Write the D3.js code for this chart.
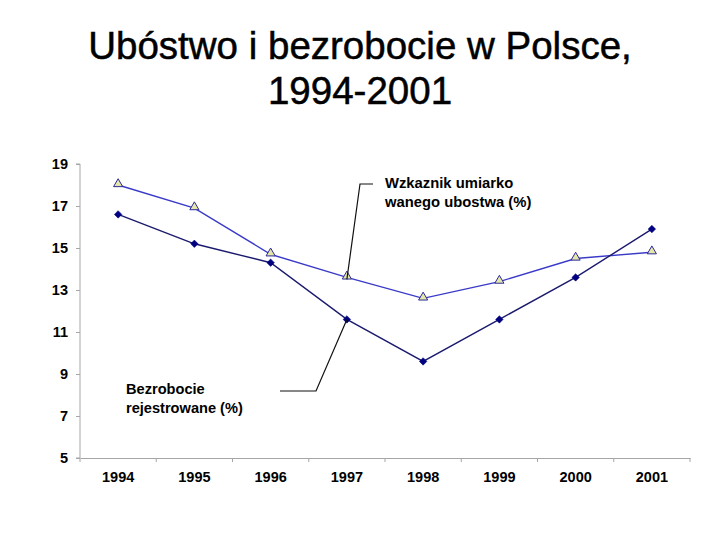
<!DOCTYPE html>
<html><head><meta charset="utf-8">
<script src="https://cdn.jsdelivr.net/npm/d3@7"></script>
<style>body{margin:0;background:#fff}svg{display:block}</style>
</head><body>
<svg id="c" width="720" height="540"></svg>
<script>
const years = ["1994","1995","1996","1997","1998","1999","2000","2001"];
const poverty = [18.0, 16.9, 14.7, 13.6, 12.6, 13.4, 14.5, 14.8];
const unemployment = [16.6, 15.2, 14.3, 11.6, 9.6, 11.6, 13.6, 15.9];
const yTicks = [5, 7, 9, 11, 13, 15, 17, 19];
const titleLines = ["Ubóstwo i bezrobocie w Polsce,", "1994-2001"];
const povertyLabel = ["Wzkaznik umiarko", "wanego ubostwa (%)"];
const unempLabel = ["Bezrobocie", "rejestrowane (%)"];

const svg = d3.select("#c");
const L = 80, R = 690, T = 164, B = 458;
const x = d3.scaleBand().domain(years).range([L, R]);
const y = d3.scaleLinear().domain([5, 19]).range([B, T]);
const font = "Liberation Sans, Arial, sans-serif";

svg.append("g").selectAll("text").data(titleLines).join("text")
  .attr("x", 360).attr("y", (d, i) => 59 + i * 45)
  .attr("text-anchor", "middle").attr("font-family", font)
  .attr("font-size", 38.5).attr("fill", "#000")
  .attr("stroke", "#000").attr("stroke-width", 0.5).text(d => d);

// axes
const gy = svg.append("g").attr("transform", `translate(${L},0)`)
  .call(d3.axisLeft(y).tickValues(yTicks).tickSize(4).tickPadding(8));
const gx = svg.append("g").attr("transform", `translate(0,${B})`)
  .call(d3.axisBottom(x).tickSize(0).tickPadding(14));
[gy, gx].forEach(g => {
  g.select(".domain").attr("stroke", "#a6a6a6");
  g.selectAll(".tick line").attr("stroke", "#a6a6a6");
  g.selectAll("text").attr("font-family", font).attr("font-weight", "bold")
    .attr("font-size", 14.5).attr("fill", "#000");
});
gy.select(".domain").attr("d", `M-4,${y(19)}H0V${B}H-4`);
// band boundary ticks on x axis
gx.append("g").selectAll("line").data(d3.range(years.length + 1)).join("line")
  .attr("x1", i => L + i * x.step()).attr("x2", i => L + i * x.step())
  .attr("y1", 0).attr("y2", 4).attr("stroke", "#a6a6a6");

const cx = d => x(d) + x.bandwidth() / 2;
const line = d3.line().x((d, i) => cx(years[i])).y(d => y(d));

svg.append("path").datum(poverty).attr("d", line)
  .attr("fill", "none").attr("stroke", "#3a3ac8").attr("stroke-width", 1.4);
svg.append("path").datum(unemployment).attr("d", line)
  .attr("fill", "none").attr("stroke", "#1a1a6e").attr("stroke-width", 1.4);

svg.append("g").selectAll("path").data(unemployment).join("path")
  .attr("transform", (d, i) => `translate(${cx(years[i])},${y(d)}) rotate(45)`)
  .attr("d", d3.symbol(d3.symbolSquare, 28))
  .attr("fill", "#000080").attr("stroke", "#000080").attr("stroke-width", 0.5);

svg.append("g").selectAll("path").data(poverty).join("path")
  .attr("transform", (d, i) => `translate(${cx(years[i])},${y(d) - 1})`)
  .attr("d", d3.symbol(d3.symbolTriangle, 36))
  .attr("fill", "#e6e6a8").attr("stroke", "#2a2a9a").attr("stroke-width", 1);

// leader lines
const i97 = years.indexOf("1997");
svg.append("path")
  .attr("d", `M373,184H360L${cx("1997")},${y(poverty[i97]) + 2}`)
  .attr("fill", "none").attr("stroke", "#111").attr("stroke-width", 1.2);
svg.append("path")
  .attr("d", `M280,391H316L${cx("1997")},${y(unemployment[i97])}`)
  .attr("fill", "none").attr("stroke", "#111").attr("stroke-width", 1.2);

svg.append("g").selectAll("text").data(povertyLabel).join("text")
  .attr("x", 385).attr("y", (d, i) => 188 + i * 19)
  .attr("font-family", font).attr("font-weight", "bold").attr("font-size", 14.8)
  .attr("fill", "#000").text(d => d);
svg.append("g").selectAll("text").data(unempLabel).join("text")
  .attr("x", 126).attr("y", (d, i) => 394 + i * 19)
  .attr("font-family", font).attr("font-weight", "bold").attr("font-size", 14.6)
  .attr("fill", "#000").text(d => d);
</script>
</body></html>
